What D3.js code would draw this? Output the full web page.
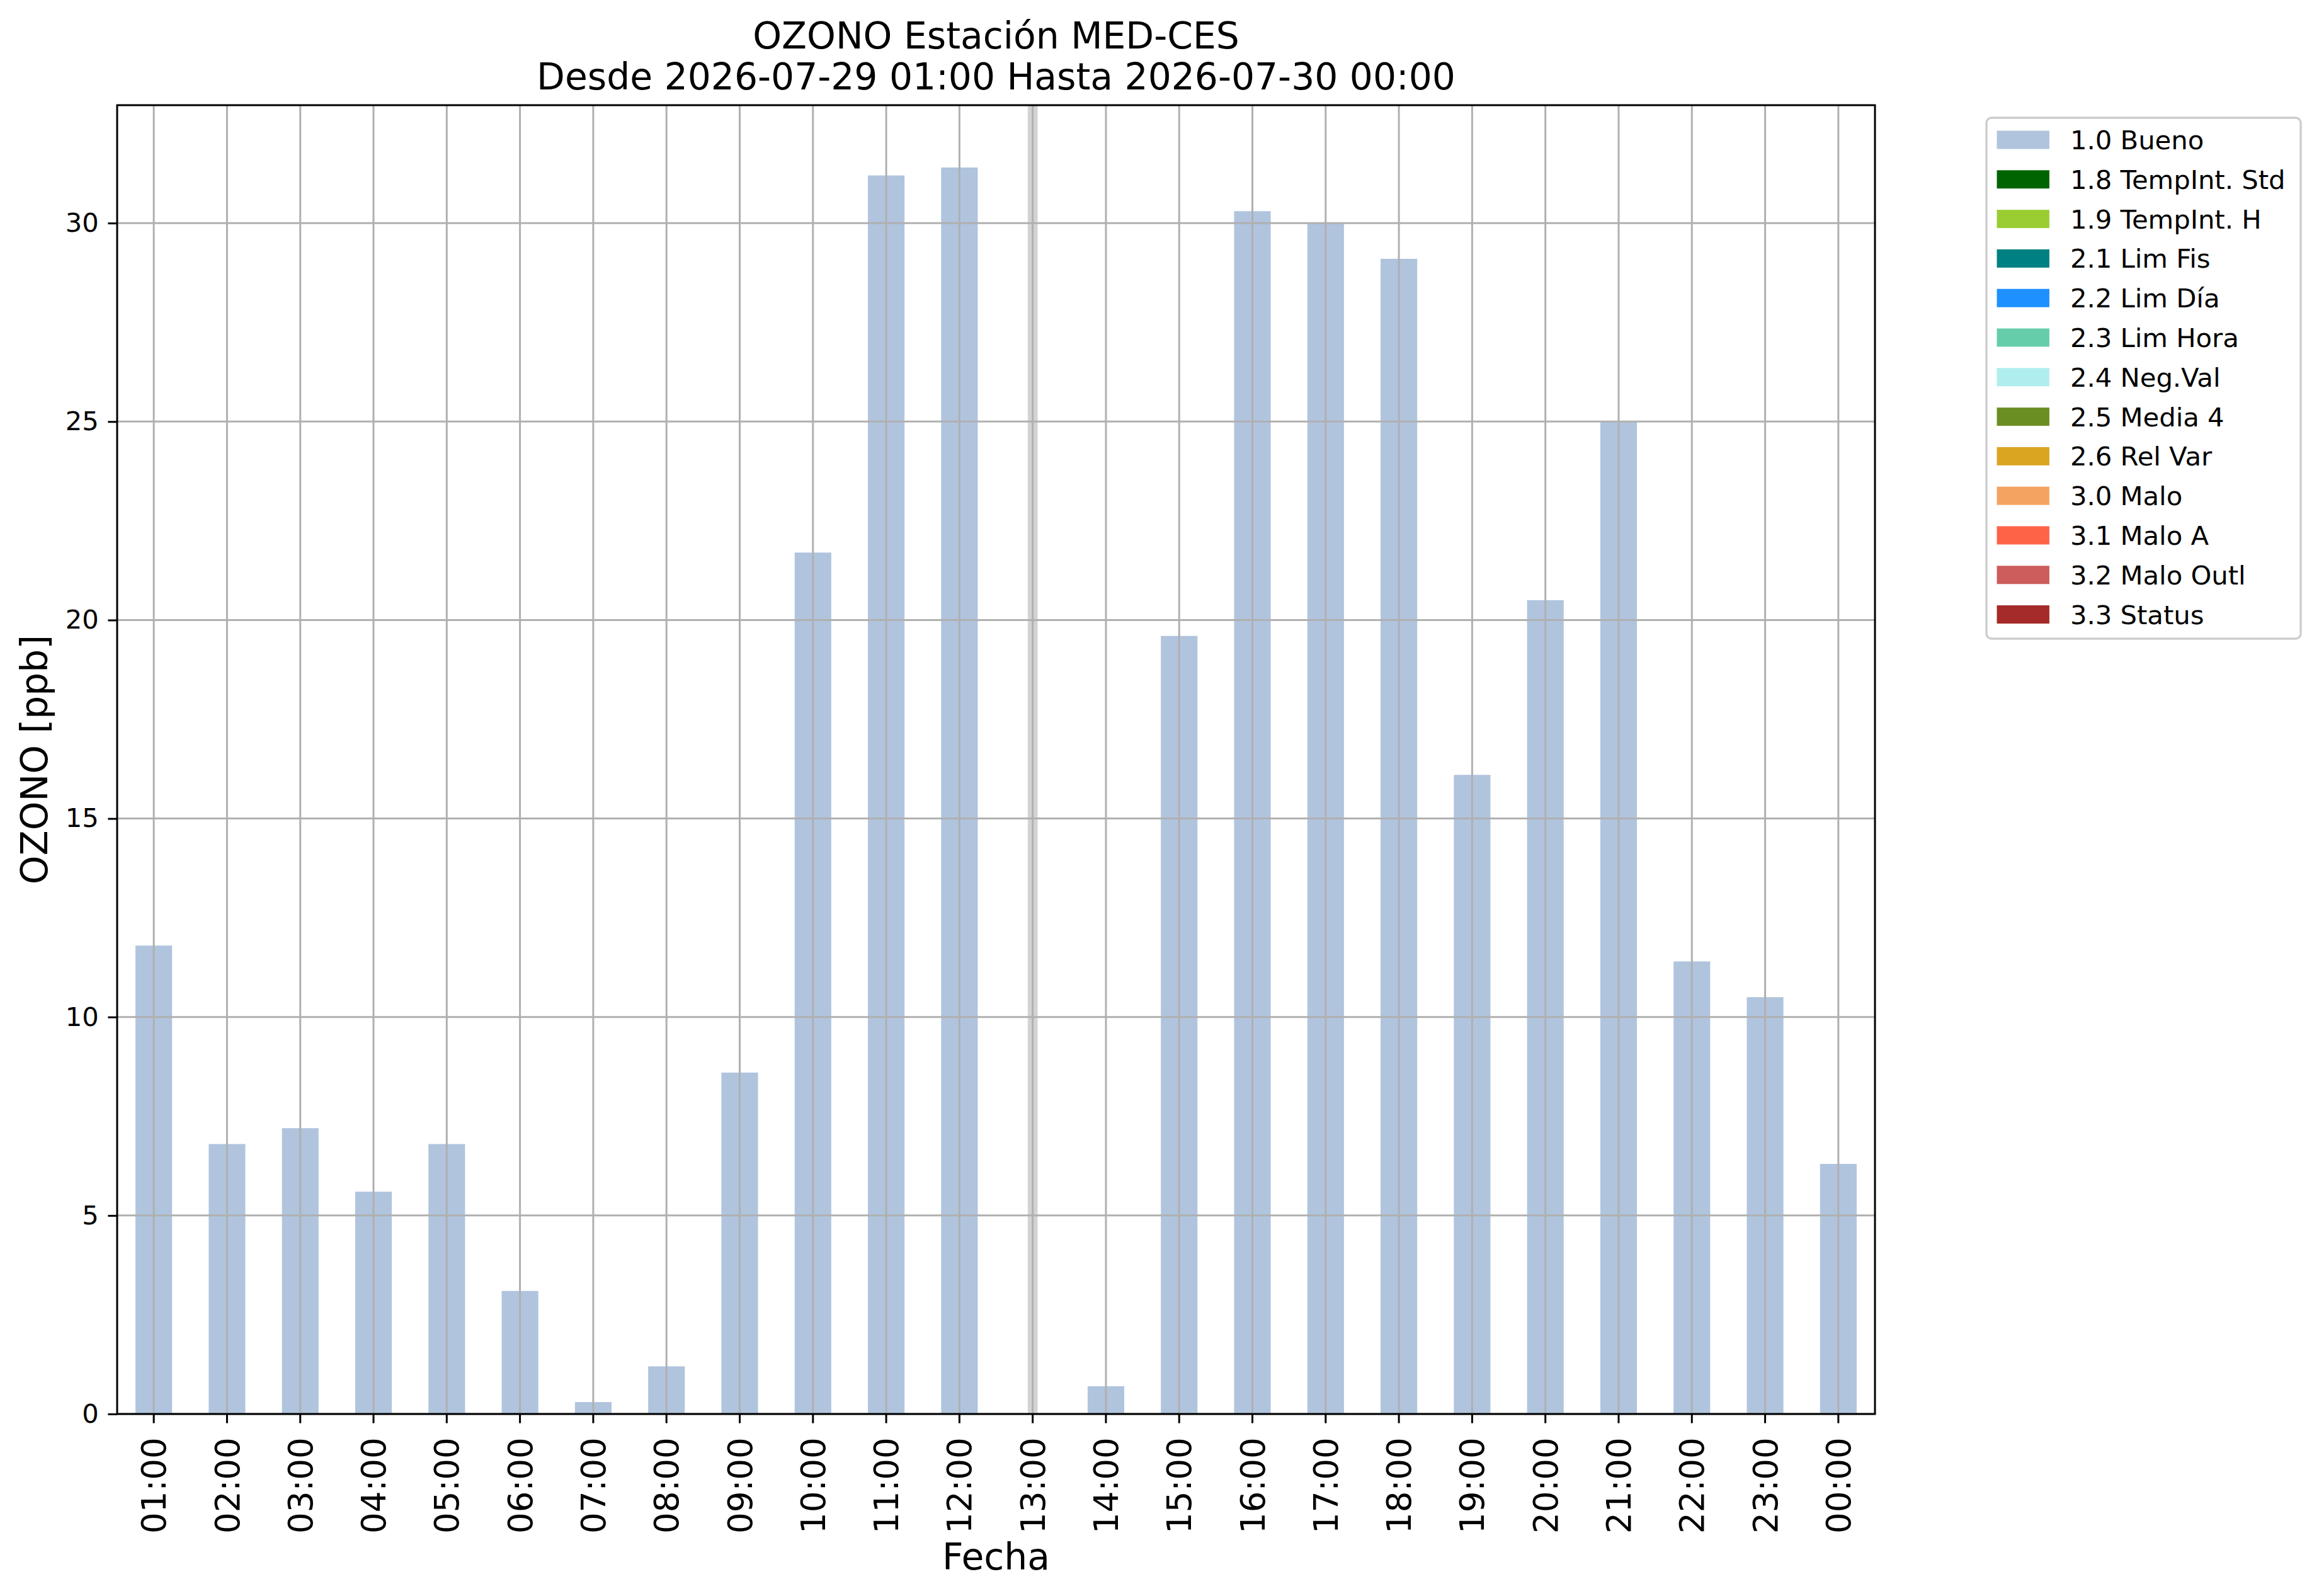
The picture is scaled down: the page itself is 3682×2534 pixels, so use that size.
<!DOCTYPE html>
<html>
<head>
<meta charset="utf-8">
<script src="https://cdn.jsdelivr.net/npm/d3@7"></script>
<style>
  body { margin: 0; background: #fff; }
  svg { display: block; font-family: "DejaVu Sans", sans-serif; }
</style>
</head>
<body>
<svg id="chart" width="3682" height="2534"></svg>
<script>
// hourly ozone values, null = no data for that hour
var hours = ["01:00","02:00","03:00","04:00","05:00","06:00","07:00","08:00",
             "09:00","10:00","11:00","12:00","13:00","14:00","15:00","16:00",
             "17:00","18:00","19:00","20:00","21:00","22:00","23:00","00:00"];
var ozono = [11.8, 6.8, 7.2, 5.6, 6.8, 3.1, 0.3, 1.2,
             8.6, 21.7, 31.2, 31.4, null, 0.7, 19.6, 30.3,
             30.0, 29.1, 16.1, 20.5, 25.0, 11.4, 10.5, 6.3];
var missingHours = ["13:00"];
var yTicks = [0, 5, 10, 15, 20, 25, 30];

var legendLabels = ["1.0 Bueno","1.8 TempInt. Std","1.9 TempInt. H","2.1 Lim Fis",
                    "2.2 Lim Día","2.3 Lim Hora","2.4 Neg.Val","2.5 Media 4",
                    "2.6 Rel Var","3.0 Malo","3.1 Malo A","3.2 Malo Outl","3.3 Status"];
var legendColors = ["lightsteelblue","darkgreen","yellowgreen","teal",
                    "dodgerblue","mediumaquamarine","paleturquoise","olivedrab",
                    "goldenrod","sandybrown","tomato","indianred","brown"];

var titleLines = ["OZONO Estación MED-CES", "Desde 2026-07-29 01:00 Hasta 2026-07-30 00:00"];

var svg = d3.select("#chart");

// axes box (pixels)
var axLeft = 186, axRight = 2977, axTop = 167, axBottom = 2245;
var tickLen = 14.6, tickPad = 14.6;
var gridColor = "#b0b0b0";

var x = d3.scaleBand()
    .domain(hours)
    .range([axLeft, axRight])
    .paddingInner(0.5)
    .paddingOuter(0.25);

var y = d3.scaleLinear()
    .domain([0, d3.max(ozono) * 1.05])
    .range([axBottom, axTop]);

var plot = svg.append("g");

// bars
plot.selectAll("rect.bar")
    .data(hours.map(function(h, i){ return {h: h, v: ozono[i]}; }).filter(function(d){ return d.v !== null; }))
    .enter().append("rect")
    .attr("class", "bar")
    .attr("x", function(d){ return x(d.h); })
    .attr("width", x.bandwidth())
    .attr("y", function(d){ return y(d.v); })
    .attr("height", function(d){ return y(0) - y(d.v); })
    .attr("fill", "lightsteelblue");

// marker for missing hours
plot.selectAll("rect.missing")
    .data(missingHours)
    .enter().append("rect")
    .attr("class", "missing")
    .attr("x", function(d){ return x(d) + x.bandwidth() / 2 - 7.8; })
    .attr("width", 15.6)
    .attr("y", axTop)
    .attr("height", axBottom - axTop)
    .attr("fill", "#d3d3d3");

// grid
var grid = svg.append("g");
grid.selectAll("line.vg")
    .data(hours)
    .enter().append("line")
    .attr("x1", function(d){ return x(d) + x.bandwidth() / 2; })
    .attr("x2", function(d){ return x(d) + x.bandwidth() / 2; })
    .attr("y1", axTop).attr("y2", axBottom)
    .attr("stroke", gridColor).attr("stroke-width", 3);
grid.selectAll("line.hg")
    .data(yTicks)
    .enter().append("line")
    .attr("x1", axLeft).attr("x2", axRight)
    .attr("y1", function(d){ return y(d); })
    .attr("y2", function(d){ return y(d); })
    .attr("stroke", gridColor).attr("stroke-width", 3);

// y axis
var yAxis = svg.append("g")
    .attr("transform", "translate(" + axLeft + ",0)")
    .call(d3.axisLeft(y).tickValues(yTicks).tickFormat(d3.format("d"))
          .tickSize(tickLen).tickPadding(tickPad));
yAxis.select(".domain").remove();
yAxis.selectAll(".tick line").attr("stroke", "#000").attr("stroke-width", 3);
yAxis.selectAll(".tick text")
    .attr("font-size", 41.7)
    .attr("font-family", "DejaVu Sans")
    .attr("fill", "#000");

// x axis
var xAxis = svg.append("g")
    .attr("transform", "translate(0," + axBottom + ")")
    .call(d3.axisBottom(x).tickSize(tickLen).tickPadding(0));
xAxis.select(".domain").remove();
xAxis.selectAll(".tick line").attr("stroke", "#000").attr("stroke-width", 3);
xAxis.selectAll(".tick text")
    .attr("font-size", 53)
    .attr("font-family", "DejaVu Sans")
    .attr("fill", "#000")
    .attr("text-anchor", "end")
    .attr("transform", "translate(0," + (tickLen + tickPad + 8) + ") rotate(-90)")
    .attr("x", 0).attr("y", 0)
    .attr("dy", "0.36em");

// spines
svg.append("rect")
    .attr("x", axLeft).attr("y", axTop)
    .attr("width", axRight - axLeft).attr("height", axBottom - axTop)
    .attr("fill", "none").attr("stroke", "#000").attr("stroke-width", 3);

// titles and labels
svg.selectAll("text.title")
    .data(titleLines)
    .enter().append("text")
    .attr("class", "title")
    .attr("x", (axLeft + axRight) / 2)
    .attr("y", function(d, i){ return 77 + i * 65; })
    .attr("text-anchor", "middle")
    .attr("font-size", 58.3)
    .text(function(d){ return d; });

svg.append("text")
    .attr("x", (axLeft + axRight) / 2)
    .attr("y", 2492)
    .attr("text-anchor", "middle")
    .attr("font-size", 58.3)
    .text("Fecha");

svg.append("text")
    .attr("transform", "translate(75," + ((axTop + axBottom) / 2) + ") rotate(-90)")
    .attr("text-anchor", "middle")
    .attr("font-size", 58.3)
    .text("OZONO [ppb]");

// legend
var lgX = 3154, lgY = 187, rowH = 62.8;
var legend = svg.append("g");
legend.append("rect")
    .attr("x", lgX).attr("y", lgY)
    .attr("width", 499).attr("height", 827)
    .attr("rx", 8).attr("ry", 8)
    .attr("fill", "#fff").attr("fill-opacity", 0.8)
    .attr("stroke", "#cccccc").attr("stroke-width", 3.3);

var rows = legend.selectAll("g.row")
    .data(legendLabels)
    .enter().append("g")
    .attr("transform", function(d, i){ return "translate(0," + (i * rowH) + ")"; });
rows.append("rect")
    .attr("x", 3170.5).attr("y", 207.5)
    .attr("width", 83.4).attr("height", 29)
    .attr("fill", function(d, i){ return legendColors[i]; });
rows.append("text")
    .attr("x", 3287).attr("y", 237)
    .attr("font-size", 41.7)
    .text(function(d){ return d; });
</script>
</body>
</html>
